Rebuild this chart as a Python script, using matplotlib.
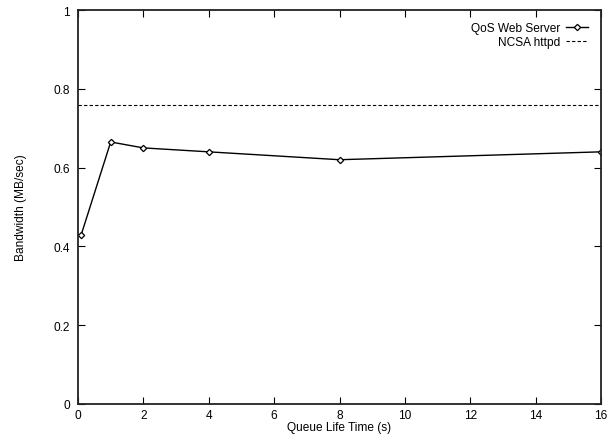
import matplotlib
matplotlib.use('Agg')
import matplotlib.pyplot as plt

# dados medidos
tempo_fila = [0.1, 1, 2, 4, 8, 16]
banda_qos = [0.43, 0.665, 0.65, 0.64, 0.62, 0.64]
banda_ncsa = 0.76

xticks = [0, 2, 4, 6, 8, 10, 12, 14, 16]
yticks = [0, 0.2, 0.4, 0.6, 0.8, 1]
yticklabels = ['0', '0.2', '0.4', '0.6', '0.8', '1']

plt.rcParams['font.family'] = ['Liberation Sans', 'DejaVu Sans']
plt.rcParams['font.size'] = 8.6

fig = plt.figure(figsize=(6.11, 4.35), dpi=100)
ax = fig.add_axes([78/611, 30/435, 523/611, 394/435])

ax.plot(tempo_fila, banda_qos, '-', color='black', lw=1.0, marker='D',
        markersize=3.2, markerfacecolor='white', markeredgecolor='black',
        markeredgewidth=0.9, label='QoS Web Server')
ax.axhline(banda_ncsa, color='black', lw=0.8, ls=(0, (3, 2)), label='NCSA httpd')

ax.set_xlim(0, 16)
ax.set_ylim(0, 1)
ax.set_xticks(xticks)
ax.set_xticklabels([str(v) for v in xticks])
ax.set_yticks(yticks)
ax.set_yticklabels(yticklabels)
ax.tick_params(axis='x', direction='in', length=5, width=0.8, top=True, pad=3.5)
ax.tick_params(axis='y', direction='in', length=5, width=0.8, right=True, pad=6)
for s in ax.spines.values():
    s.set_linewidth(1.3)
    s.set_color('#222222')

ax.set_xlabel('Queue Life Time (s)', labelpad=0)
ax.set_ylabel('Bandwidth (MB/sec)')
ax.yaxis.set_label_coords(-0.098, 0.5)

ax.legend(loc='upper right', bbox_to_anchor=(0.975, 0.969), frameon=False,
          markerfirst=False, handlelength=1.85, handletextpad=0.5,
          labelspacing=0.15, borderaxespad=0, borderpad=0)

fig.savefig('out.png', dpi=100)
